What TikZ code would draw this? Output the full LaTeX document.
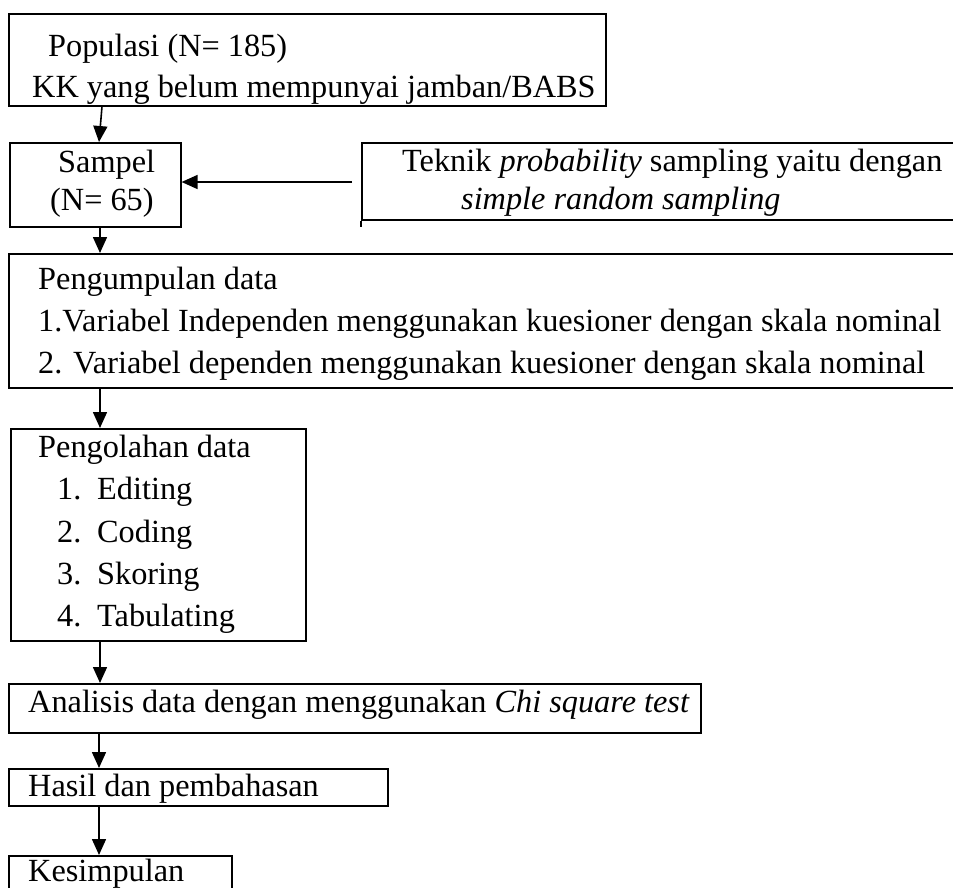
\documentclass[tikz,border=0pt]{standalone}
\usepackage{fontspec}
\setmainfont{Liberation Serif}
\usetikzlibrary{arrows.meta,calc}
\begin{document}
\begin{tikzpicture}[x=1pt,y=-1pt,
  box/.style={draw, line width=1.6pt, rectangle, inner sep=0pt, anchor=north west},
  txt/.style={anchor=base west, inner sep=0pt, font=\fontsize{32.3}{42}\selectfont},
  arr/.style={line width=1.6pt, -{Triangle[length=16pt,width=14pt]}}]
\useasboundingbox (0,0) rectangle (953,887);
\clip (0,0) rectangle (953,887);
% boxes
\node[box, minimum width=597pt, minimum height=92pt] (pop) at (8,13) {};
\node[box, minimum width=171pt, minimum height=84pt] (samp) at (9,142) {};
\node[box, minimum width=660pt, minimum height=77pt] (tek) at (361,142) {};
\node[box, minimum width=1000pt, minimum height=134pt] (kumpul) at (8,253) {};
\node[box, minimum width=295pt, minimum height=212pt] (olah) at (10,428) {};
\node[box, minimum width=692pt, minimum height=49pt] (anal) at (8,683) {};
\node[box, minimum width=379pt, minimum height=37pt] (hasil) at (8,768) {};
\node[box, minimum width=223pt, minimum height=80pt] (kes) at (8,855) {};
\draw[line width=1.6pt] (tek.south west) -- ++(0,6);
% texts
\node[txt] (t1) at (48,56) {Populasi (N= 185)};
\node[txt] (t2) at (32,97) {KK yang belum mempunyai jamban/BABS};
\node[txt] (t3) at (58,172) {Sampel};
\node[txt] (t4) at (50,210) {(N= 65)};
\node[txt] (t5) at (402,171) {Teknik \textit{probability} sampling yaitu dengan};
\node[txt] (t6) at (461,209) {\textit{simple random sampling}};
\node[txt] (t7) at (38,289) {Pengumpulan data};
\node[txt] (t8) at (38,331) {1.Variabel Independen menggunakan kuesioner dengan skala nominal};
\node[txt] (t9) at (38,373) {2. Variabel dependen menggunakan kuesioner dengan skala nominal};
\node[txt] (t10) at (38,457) {Pengolahan data};
\node[txt] (n1) at (57,499) {1.};
\node[txt] (e1) at (97,499) {Editing};
\node[txt] (n2) at (57,542) {2.};
\node[txt] (e2) at (97,542) {Coding};
\node[txt] (n3) at (57,584) {3.};
\node[txt] (e3) at (97,584) {Skoring};
\node[txt] (n4) at (57,626) {4.};
\node[txt] (e4) at (97,626) {Tabulating};
\node[txt] (t11) at (28,712) {Analisis data dengan menggunakan \textit{Chi square test}};
\node[txt] (t12) at (28,796) {Hasil dan pembahasan};
\node[txt] (t13) at (28,881) {Kesimpulan};
% arrows
\coordinate (tekout) at ($(tek.north west)+(-9,40)$);
\draw[arr] ($(pop.south west)+(94,0)$) -- ($(samp.north west)+(90,0)$);
\draw[arr] (tekout) -- (tekout -| samp.east);
\draw[arr] ($(samp.south west)+(91,0)$) -- ($(kumpul.north west)+(92,0)$);
\draw[arr] ($(kumpul.south west)+(92,0)$) -- ($(olah.north west)+(90,0)$);
\draw[arr] ($(olah.south west)+(90,0)$) -- ($(anal.north west)+(92,0)$);
\draw[arr] ($(anal.south west)+(91,0)$) -- ($(hasil.north west)+(91,0)$);
\draw[arr] ($(hasil.south west)+(91,0)$) -- ($(kes.north west)+(91,0)$);
\end{tikzpicture}
\end{document}
